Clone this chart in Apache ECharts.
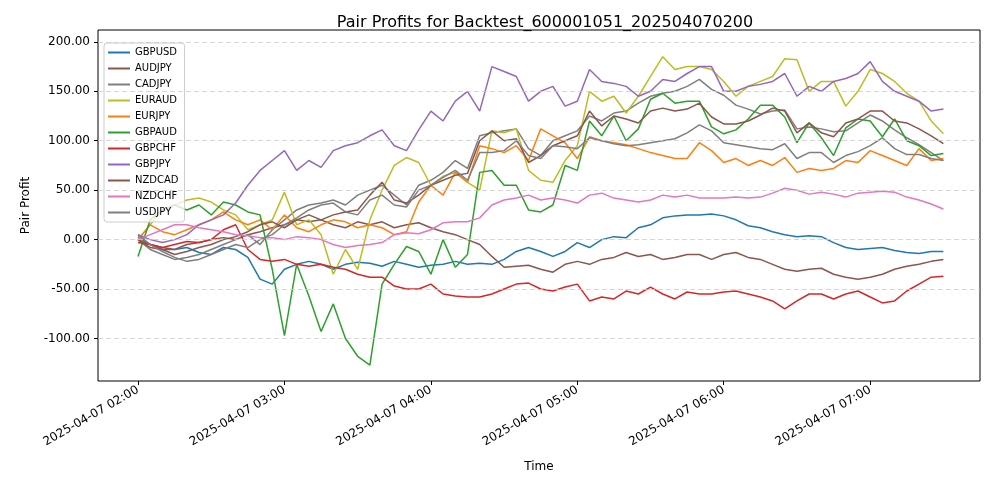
<!DOCTYPE html>
<html><head><meta charset="utf-8">
<script src="https://cdn.jsdelivr.net/npm/echarts@6/dist/echarts.min.js"></script>
<style>html,body{margin:0;padding:0;background:#fff}#c{width:1000px;height:500px}</style>
</head><body><div id="c"></div>
<script>
const minutes=[0,5,10,15,20,25,30,35,40,45,50,55,60,65,70,75,80,85,90,95,100,105,110,115,120,125,130,135,140,145,150,155,160,165,170,175,180,185,190,195,200,205,210,215,220,225,230,235,240,245,250,255,260,265,270,275,280,285,290,295,300,305,310,315,320,325,330];
const xTickMinutes=[0,60,120,180,240,300];
const xTickLabels=['2025-04-07 02:00','2025-04-07 03:00','2025-04-07 04:00','2025-04-07 05:00','2025-04-07 06:00','2025-04-07 07:00'];
const yTicks=[-100,-50,0,50,100,150,200];
const pairNames=['GBPUSD','AUDJPY','CADJPY','EURAUD','EURJPY','GBPAUD','GBPCHF','GBPJPY','NZDCAD','NZDCHF','USDJPY'];
const GBPUSD=[3,-5,-10,-10,-8,-13,-15,-8,-10,-18,-40,-45,-30,-25,-22,-25,-30,-25,-23,-24,-27,-22,-25,-28,-26,-25,-22,-25,-24,-25,-20,-12,-8,-12,-17,-12,-3,-8,0,3,2,12,15,22,24,25,25,26,24,20,14,12,8,5,3,4,3,-3,-8,-10,-9,-8,-11,-13,-14,-12,-12];
const AUDJPY=[0,-5,-8,-10,-5,-3,0,2,0,5,8,12,15,20,18,20,15,12,18,15,18,12,15,17,12,8,5,0,-5,-17,-28,-27,-26,-30,-33,-25,-22,-25,-20,-18,-13,-17,-15,-20,-18,-15,-15,-20,-15,-13,-18,-20,-25,-30,-32,-30,-29,-35,-38,-40,-38,-35,-30,-27,-25,-22,-20];
const CADJPY=[0,-10,-15,-20,-18,-15,-10,-5,0,5,-5,10,20,30,35,37,40,35,45,50,55,45,35,55,60,68,80,72,105,108,110,112,92,85,100,105,110,125,120,128,130,138,145,148,150,155,162,152,146,136,132,127,130,131,112,114,112,109,110,118,126,120,111,103,96,88,80];
const EURAUD=[0,15,30,35,40,42,38,30,25,10,15,20,48,15,20,5,-35,-10,-30,20,50,75,83,78,55,64,68,58,50,110,108,112,70,60,58,80,95,150,140,145,128,145,165,185,172,175,175,172,160,145,155,160,165,183,182,150,160,160,135,150,172,168,160,148,140,120,107];
const EURJPY=[0,15,8,5,10,15,20,28,20,15,20,10,25,12,8,15,20,18,12,15,12,5,8,38,55,45,68,58,95,92,88,95,80,112,105,98,82,104,100,98,96,92,88,85,82,82,98,90,78,82,75,80,75,83,68,72,70,72,80,78,90,85,80,75,92,80,82];
const GBPAUD=[-17,20,30,35,30,35,25,38,35,28,25,-30,-97,-25,-57,-93,-65,-100,-118,-127,-45,-25,-7,-12,-35,0,-28,-15,68,70,55,55,30,28,35,75,70,120,105,125,100,112,142,148,138,140,140,114,107,111,122,136,136,124,98,118,103,85,113,122,120,104,122,100,95,85,87];
const GBPCHF=[-3,-5,-8,-5,-2,-3,0,10,15,-10,-20,-22,-20,-25,-27,-25,-28,-30,-35,-38,-38,-47,-50,-50,-45,-55,-57,-58,-58,-55,-50,-45,-44,-50,-52,-48,-45,-62,-58,-60,-52,-55,-48,-55,-60,-53,-55,-55,-53,-52,-55,-58,-62,-70,-62,-55,-55,-60,-55,-52,-58,-64,-62,-52,-45,-38,-37];
const GBPJPY=[5,0,-3,0,5,15,20,25,37,55,70,80,90,70,80,73,90,95,98,105,111,95,90,111,130,120,140,150,130,175,170,165,140,150,155,135,140,172,160,158,155,145,150,162,160,168,175,175,150,150,155,157,160,168,145,155,150,160,163,168,180,160,150,145,140,130,132];
const NZDCAD=[0,-8,-10,-15,-12,-8,-5,0,3,8,15,18,12,20,25,20,25,28,30,45,58,40,37,45,55,60,65,67,100,110,100,102,78,85,95,100,105,130,115,125,122,118,130,133,130,132,138,124,117,117,120,126,133,130,108,118,108,104,118,122,130,130,120,118,112,105,97];
const NZDCHF=[0,5,10,15,15,12,10,8,5,4,2,2,0,3,2,0,-5,-8,-6,-5,-3,5,7,6,10,17,18,18,22,35,40,42,45,40,42,40,37,45,47,42,40,38,40,45,43,45,42,42,42,43,42,43,47,52,50,46,48,46,43,47,48,49,48,43,40,36,31];
const USDJPY=[5,-5,-12,-18,-22,-20,-15,-10,-5,-8,0,5,15,22,30,35,37,28,25,40,45,35,33,50,55,63,70,60,88,88,90,100,85,82,95,94,92,103,100,97,95,96,98,100,102,108,116,110,98,96,94,92,91,97,82,88,88,78,85,89,95,103,92,86,86,82,80];
const seriesValues=[GBPUSD,AUDJPY,CADJPY,EURAUD,EURJPY,GBPAUD,GBPCHF,GBPJPY,NZDCAD,NZDCHF,USDJPY];
const colors=['#1f77b4','#8c564b','#7f7f7f','#bcbd22','#ff7f0e','#2ca02c','#d62728','#9467bd','#8c564b','#e377c2','#7f7f7f'];

const series=pairNames.map((n,k)=>({
  name:n,type:'line',showSymbol:false,symbol:'none',
  lineStyle:{width:1.5,color:colors[k]},itemStyle:{color:colors[k]},
  data:minutes.map((m,i)=>[m,seriesValues[k][i]]),z:3
}));
series.push({type:'line',data:[],silent:true,z:1,
  markLine:{silent:true,symbol:'none',label:{show:false},animation:false,
    lineStyle:{type:[5,3],color:'#cccccc',width:0.8},
    data:yTicks.map(v=>({yAxis:v}))}});

const chart=echarts.init(document.getElementById('c'));
chart.setOption({
  animation:false,
  title:{text:'Pair Profits for Backtest_600001051_202504070200',left:540,top:10,textAlign:'center',
    textStyle:{fontFamily:'DejaVu Sans',fontSize:16,fontWeight:'normal',color:'#000'}},
  grid:{left:98,right:20,top:30,bottom:119,show:true,borderColor:'#000',borderWidth:1,backgroundColor:'transparent'},
  legend:{orient:'vertical',left:104,top:43,data:pairNames,icon:'rect',itemWidth:22,itemHeight:2,itemGap:5,
    padding:[4,6,4,4],borderColor:'#cccccc',borderWidth:1,borderRadius:3,backgroundColor:'rgba(255,255,255,0.8)',
    textStyle:{fontFamily:'DejaVu Sans',fontSize:10,color:'#000',lineHeight:11}},
  xAxis:{type:'value',min:-16.4,max:345,name:'Time',nameLocation:'middle',nameGap:80,
    nameTextStyle:{fontFamily:'DejaVu Sans',fontSize:12,color:'#000'},
    axisLine:{show:false,onZero:false},splitLine:{show:false},
    axisTick:{show:true,length:4,lineStyle:{color:'#000'},customValues:xTickMinutes},
    axisLabel:{customValues:xTickMinutes,rotate:30,fontFamily:'DejaVu Sans',fontSize:12,color:'#000',margin:8,
      formatter:v=>xTickLabels[xTickMinutes.indexOf(v)]}},
  yAxis:{type:'value',min:-143,max:212,name:'Pair Profit',nameLocation:'middle',nameGap:66,
    nameTextStyle:{fontFamily:'DejaVu Sans',fontSize:12,color:'#000'},
    axisLine:{show:false,onZero:false},splitLine:{show:false},
    axisTick:{show:true,length:4,lineStyle:{color:'#000'},customValues:yTicks},
    axisLabel:{customValues:yTicks,fontFamily:'DejaVu Sans',fontSize:12,color:'#000',formatter:v=>v.toFixed(2)}},
  series:series
});
</script></body></html>
